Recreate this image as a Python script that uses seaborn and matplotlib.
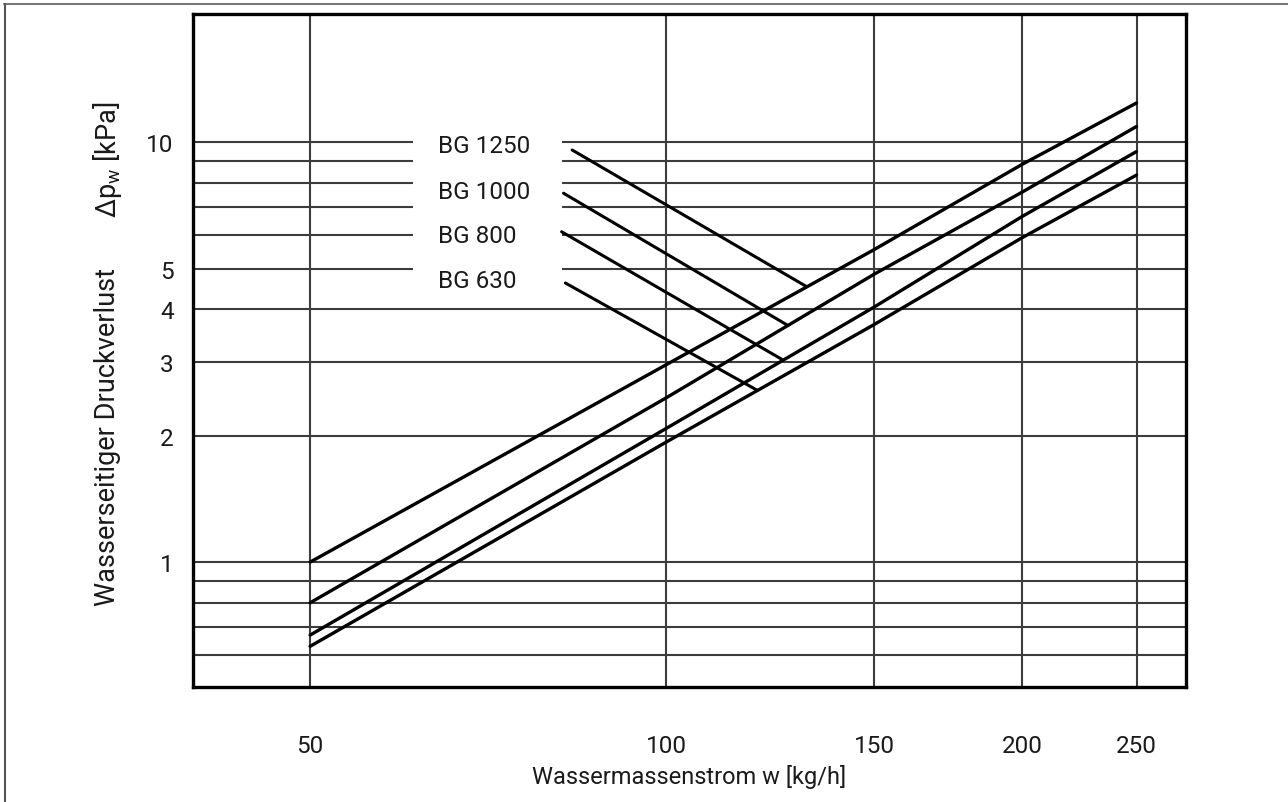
import matplotlib
matplotlib.use("Agg")
import matplotlib.pyplot as plt
from matplotlib.lines import Line2D
from matplotlib.ticker import FixedLocator, NullFormatter, NullLocator, FixedFormatter
import numpy as np
import pandas as pd
import seaborn as sns

# Water mass flow [kg/h] at which the curves are read
flow = [50, 100, 150, 200, 250]

# Water-side pressure loss [kPa] per unit size
bg_1250 = [1.00, 2.95, 5.55, 8.85, 12.4]
bg_1000 = [0.80, 2.46, 4.85, 7.60, 10.9]
bg_800 = [0.67, 2.08, 4.05, 6.65, 9.5]
bg_630 = [0.63, 1.93, 3.68, 5.92, 8.35]

series_names = ["BG 1250", "BG 1000", "BG 800", "BG 630"]

x_ticks = [50, 100, 150, 200, 250]
x_tick_labels = ["50", "100", "150", "200", "250"]
y_ticks = [1, 2, 3, 4, 5, 10]
y_tick_labels = ["1", "2", "3", "4", "5", "10"]
y_grid = [0.6, 0.7, 0.8, 0.9, 1, 2, 3, 4, 5, 6, 7, 8, 9, 10]

x_label = "Wassermassenstrom w [kg/h]"
y_label = "Wasserseitiger Druckverlust"
y_unit = "Δp$_{w}$ [kPa]"

FS = 17.5
FS_Y = 19.5

sns.set_theme(style="white")
plt.rcParams["font.family"] = ["Roboto", "DejaVu Sans"]
plt.rcParams["mathtext.default"] = "regular"

df = pd.DataFrame({
    "flow": flow * 4,
    "dp": bg_1250 + bg_1000 + bg_800 + bg_630,
    "series": [n for n in series_names for _ in flow],
})

fig = plt.figure(figsize=(12.88, 8.03), dpi=100)
ax = fig.add_axes([193 / 1288, 1 - 688 / 803, (1186 - 193) / 1288, (688 - 15) / 803])

ax.set_xscale("log")
ax.set_yscale("log")
ax.set_xlim(39.8, 275.3)
ax.set_ylim(0.504, 20.2)

sns.lineplot(data=df, x="flow", y="dp", hue="series",
             palette=["black"] * 4, legend=False, linewidth=2.4,
             ax=ax, zorder=4)

grid_kw = dict(color="#3c3c3c", linewidth=1.5, zorder=2)
# horizontal grid, broken around the label column between 5 and 10 kPa
gap_lo, gap_hi = 61.1, 81.7
for yv in y_grid:
    if 5 <= yv <= 10:
        ax.hlines(yv, 39.8, gap_lo, **grid_kw)
        ax.hlines(yv, gap_hi, 275.3, **grid_kw)
    else:
        ax.hlines(yv, 39.8, 275.3, **grid_kw)
for xv in x_ticks:
    ax.axvline(xv, **grid_kw)

# unit size labels and leader lines to the curves
label_x = 64.15
label_y = [9.46, 7.38, 5.77, 4.51]
leader_start = [(83.3, 9.58), (81.9, 7.56), (81.6, 6.12), (82.2, 4.62)]
leader_end = [(131.3, 4.54), (126.8, 3.66), (125.3, 3.04), (119.3, 2.57)]
for name, ly, (x0, y0), (x1, y1) in zip(series_names, label_y, leader_start, leader_end):
    ax.text(label_x, ly, name, fontsize=FS, color="#1a1a1a", va="baseline", ha="left", zorder=5)
    ax.plot([x0, x1], [y0, y1], color="black", linewidth=2.2, zorder=4)

ax.xaxis.set_major_locator(FixedLocator(x_ticks))
ax.xaxis.set_major_formatter(FixedFormatter(x_tick_labels))
ax.xaxis.set_minor_locator(NullLocator())
ax.yaxis.set_major_locator(FixedLocator(y_ticks))
ax.yaxis.set_major_formatter(FixedFormatter(y_tick_labels))
ax.yaxis.set_minor_locator(FixedLocator([1, 10]))
ax.yaxis.set_minor_formatter(NullFormatter())

ax.tick_params(axis="both", which="major", length=0, labelsize=FS, labelcolor="#1a1a1a")
ax.tick_params(axis="x", which="major", pad=34)
ax.tick_params(axis="y", which="major", pad=14)
ax.tick_params(axis="y", which="minor", direction="in", length=12, width=1.6, color="black", left=True)

for sp in ax.spines.values():
    sp.set_color("black")
    sp.set_linewidth(2.4)
    sp.set_zorder(6)

ax.set_xlabel(x_label, fontsize=17, color="#1a1a1a")
ax.xaxis.set_label_coords(0.5, -0.1145)

# y-axis title: quantity name and symbol with unit, set apart
ax.set_ylabel(y_label, fontsize=FS_Y, color="#1a1a1a", va="center", ha="center")
ax.yaxis.set_label_coords(-0.0856, 0.373)
ax.text(-0.0856, 0.7845, y_unit, transform=ax.transAxes, rotation=90,
        rotation_mode="anchor", ha="center", va="center",
        fontsize=FS_Y, color="#1a1a1a")

# outer frame (top and left edges)
fig.add_artist(Line2D([4 / 1288, 1.0], [1 - 4.5 / 803, 1 - 4.5 / 803], transform=fig.transFigure,
                      color="#777777", linewidth=1.5))
fig.add_artist(Line2D([4.5 / 1288, 4.5 / 1288], [0.0, 1 - 4.5 / 803], transform=fig.transFigure,
                      color="#555555", linewidth=1.5))

fig.savefig("out.png", dpi=100, facecolor="white")
